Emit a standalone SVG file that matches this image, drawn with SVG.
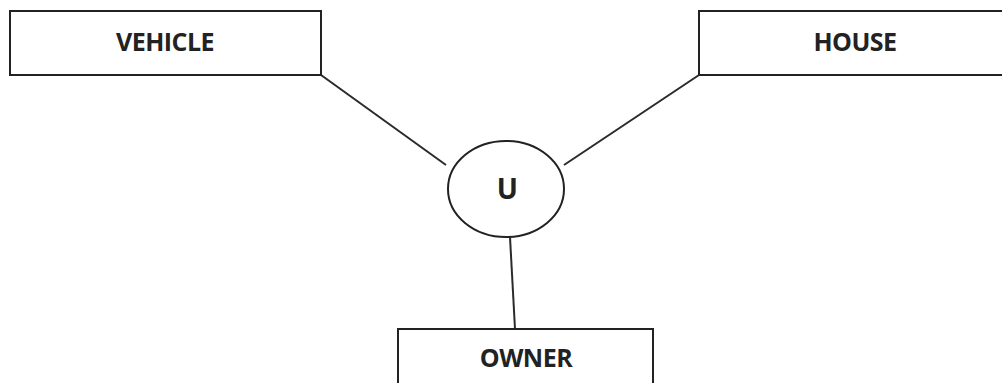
<svg xmlns="http://www.w3.org/2000/svg" width="1002" height="383" viewBox="0 0 1002 383">
  <style>
    .box { fill: #ffffff; stroke: #222222; stroke-width: 2; }
    .link { stroke: #2a2a2a; stroke-width: 2; fill: none; }
    .label { font-family: "Open Sans", "Liberation Sans", sans-serif; font-weight: bold; font-size: 25px; fill: #222222; text-anchor: middle; dominant-baseline: central; letter-spacing: -0.5px; }
  </style>
  <rect width="1002" height="383" fill="#ffffff"/>
  <g id="connectors">
    <line class="link" x1="321" y1="75" x2="446" y2="165"/>
    <line class="link" x1="699" y1="75" x2="564" y2="165"/>
    <line class="link" x1="510" y1="237" x2="515" y2="329"/>
  </g>
  <g id="vehicle">
    <rect class="box" x="10" y="11" width="311" height="64"/>
    <text class="label" x="165" y="41">VEHICLE</text>
  </g>
  <g id="house">
    <rect class="box" x="699" y="11" width="310" height="64"/>
    <text class="label" x="855" y="41">HOUSE</text>
  </g>
  <g id="union">
    <ellipse class="box" cx="506" cy="189" rx="58" ry="48"/>
    <text class="label" x="507" y="188" style="font-size:28px">U</text>
  </g>
  <g id="owner">
    <rect class="box" x="398" y="329" width="255" height="70"/>
    <text class="label" x="526" y="357">OWNER</text>
  </g>
</svg>
